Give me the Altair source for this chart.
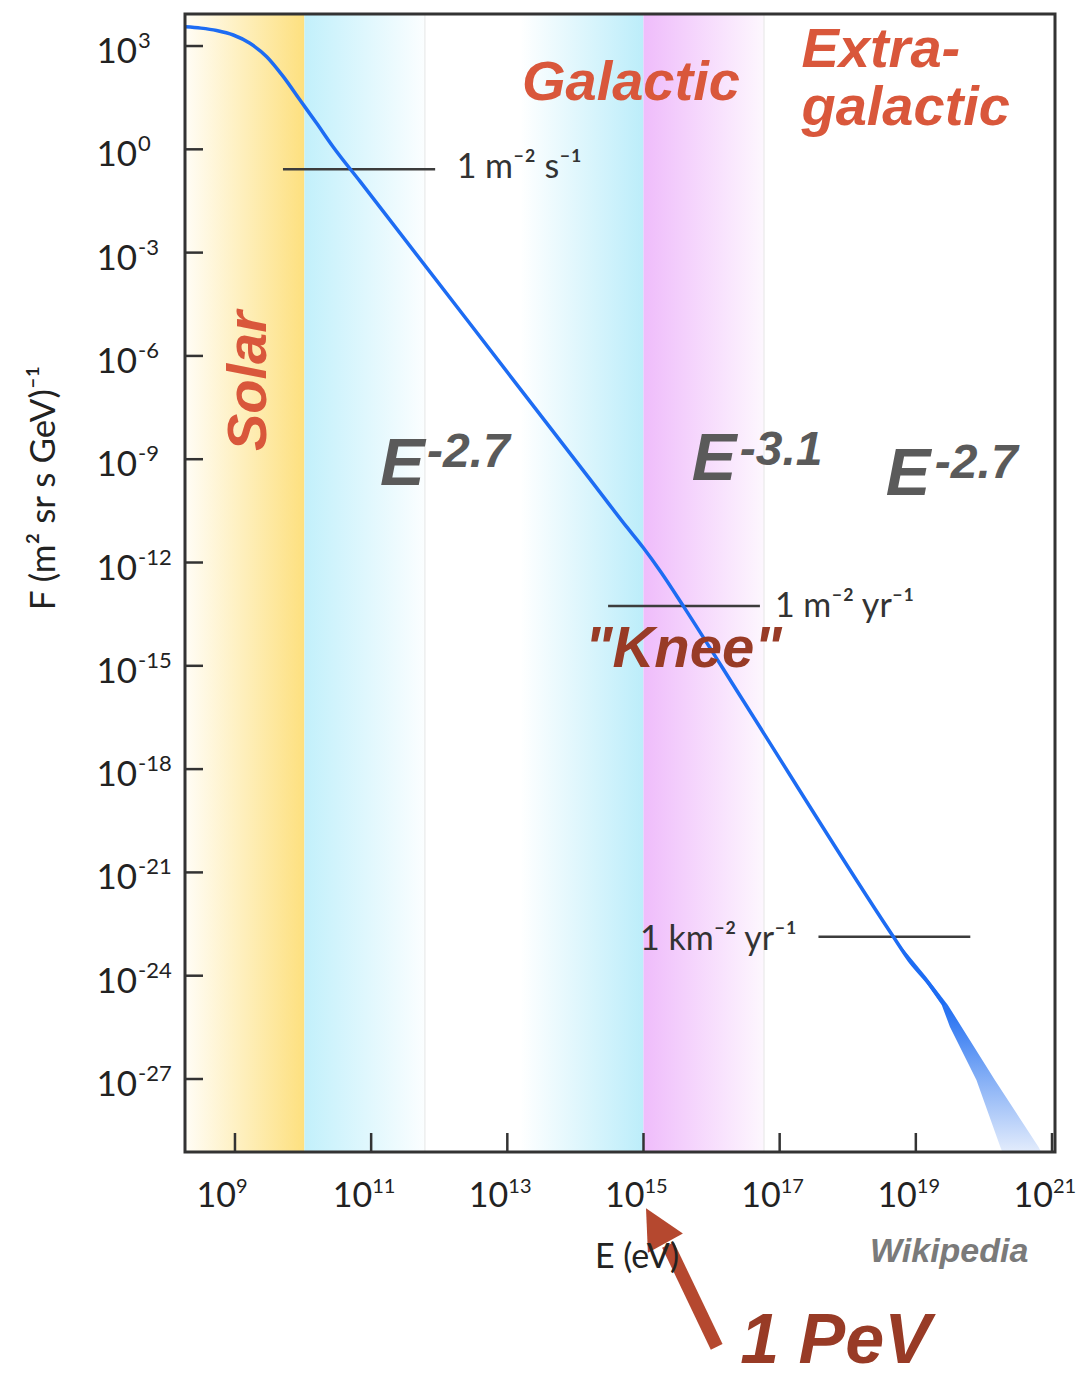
import altair as alt
import pandas as pd

# ---------------- data (log10 units) ----------------
# cosmic-ray flux curve: log10(E / eV) and log10(F)
curve_logE = [8.27, 8.5, 8.73, 8.975, 9.22, 9.466, 9.71, 9.955, 10.20, 10.44, 10.84,
              13.28, 14.21, 14.75, 15.0, 15.25, 15.59, 16.47, 18.67, 18.9, 19.2, 19.42]
curve_logF = [3.56, 3.52, 3.45, 3.32, 3.08, 2.69, 2.11, 1.43, 0.755, 0.075, -0.94,
              -7.19, -9.57, -10.96, -11.58, -12.26, -13.28, -16.03, -22.87, -23.55, -24.25, -24.85]

# uncertainty tail at the highest energies
tail_logF = [-22.9, -24.0, -24.85, -25.48, -27.03, -28.97, -29.12]
tail_logE_lo = [18.66, 19.08, 19.38, 19.50, 19.89, 20.24, 20.27]
tail_logE_hi = [18.68, 19.14, 19.47, 19.67, 20.16, 20.80, 20.84]

# shaded energy regions (log10 E bounds)
solar_band = [8.266, 10.02]
cyan_band_1 = [10.02, 11.79]
cyan_band_2 = [13.19, 15.0]
magenta_band = [15.0, 16.77]
faint_edges = [11.79, 16.77]

# reference flux levels
ref_lo = [9.705, 14.48, 17.57]
ref_hi = [11.94, 16.71, 19.80]
ref_F = [-0.576, -13.26, -22.87]
ref_text = ["1 m\u207b\u00b2 s\u207b\u00b9", "1 m\u207b\u00b2 yr\u207b\u00b9", "1 km\u207b\u00b2 yr\u207b\u00b9"]
ref_text_E = [12.256, 16.93, 14.95]
ref_text_F = [-0.842, -13.575, -23.26]

# axis ticks (exponents)
x_exps = [9, 11, 13, 15, 17, 19, 21]
y_exps = [3, 0, -3, -6, -9, -12, -15, -18, -21, -24, -27]

X_DOM = [8.266, 21.044]
Y_DOM = [-29.12, 3.93]
W, H = 870, 1138

xs = alt.Scale(domain=X_DOM, nice=False, zero=False)
ys = alt.Scale(domain=Y_DOM, nice=False, zero=False)

def X(f):
    return alt.X(f, type="quantitative", scale=xs, axis=None)

def Y(f):
    return alt.Y(f, type="quantitative", scale=ys, axis=None)

def band(bounds, stops):
    df = pd.DataFrame({"a": [bounds[0]], "b": [bounds[1]], "lo": [Y_DOM[0]], "hi": [Y_DOM[1]]})
    grad = alt.LinearGradient(
        gradient="linear",
        stops=[alt.GradientStop(color=c, offset=o) for o, c in stops],
        x1=0, x2=1, y1=0, y2=0,
    )
    return alt.Chart(df).mark_rect(color=grad).encode(
        x=X("a"), x2="b", y=Y("lo"), y2="hi"
    )

layers = []
layers.append(band(solar_band, [(0, "#fffdf6"), (1, "#fde07f")]))
layers.append(band(cyan_band_1, [(0, "#c2f0fb"), (1, "#fbfeff")]))
layers.append(band(cyan_band_2, [(0, "#ffffff"), (1, "#bcedfa")]))
layers.append(band(magenta_band, [(0, "#efbcfb"), (1, "#fdf7fe")]))

edges_df = pd.DataFrame({"e": faint_edges})
layers.append(alt.Chart(edges_df).mark_rule(color="#e6e6e6", strokeWidth=1).encode(x=X("e")))

# reference lines
ref_df = pd.DataFrame({"lo": ref_lo, "hi": ref_hi, "f": ref_F})
layers.append(alt.Chart(ref_df).mark_rule(color="#3c3c3c", strokeWidth=2.5).encode(
    x=X("lo"), x2="hi", y=Y("f")))

# tail band
tail_df = pd.DataFrame({"f": tail_logF, "lo": tail_logE_lo, "hi": tail_logE_hi})
tail_grad = alt.LinearGradient(
    gradient="linear",
    stops=[alt.GradientStop(color="#1f6ff2", offset=0),
           alt.GradientStop(color="#2a74f2", offset=0.35),
           alt.GradientStop(color="#7aa8f5", offset=0.62),
           alt.GradientStop(color="#e3ecfc", offset=1)],
    x1=0, x2=0, y1=0, y2=1,
)
layers.append(alt.Chart(tail_df).mark_area(orient="horizontal", color=tail_grad).encode(
    y=Y("f"), x=X("lo"), x2="hi"))

# curve
curve_df = pd.DataFrame({"e": curve_logE, "f": curve_logF})
layers.append(alt.Chart(curve_df).mark_line(color="#1d6cf3", strokeWidth=3.5,
                                            interpolate="monotone").encode(
    x=X("e"), y=Y("f")))

# frame
frame_df = pd.DataFrame({"k": [0]})
layers.append(alt.Chart(frame_df).mark_rect(filled=False, stroke="#333333", strokeWidth=3).encode(
    x=alt.value(0), x2=alt.value(W), y=alt.value(0), y2=alt.value(H)))

# reference labels
rl_df = pd.DataFrame({"e": ref_text_E, "f": ref_text_F, "t": ref_text})
layers.append(alt.Chart(rl_df).mark_text(align="left", baseline="alphabetic", font="Lato",
                                         fontSize=34, color="#333333").encode(
    x=X("e"), y=Y("f"), text="t:N"))

# annotations
ANN = dict(font="Liberation Sans", fontStyle="italic", fontWeight="bold")
red = "#d9573b"
dark_red = "#983b26"
gray = "#5a5a5a"

def ann(text, e, f, **kw):
    df = pd.DataFrame({"e": [e], "f": [f], "t": [text]})
    props = dict(ANN)
    props.update(kw)
    return alt.Chart(df).mark_text(**props).encode(x=X("e"), y=Y("f"), text="t:N")

layers.append(ann("Solar", 9.455, -6.73, angle=270, align="center", baseline="alphabetic",
                  fontSize=56, color=red))
layers.append(ann("Galactic", 13.215, 1.43, align="left", baseline="alphabetic", fontSize=56, color=red))
layers.append(ann("Extra-", 17.32, 2.40, align="left", baseline="alphabetic", fontSize=56, color=red))
layers.append(ann("galactic", 17.32, 0.71, align="left", baseline="alphabetic", fontSize=56, color=red))

for (e, f, sup, dx, dy) in [(11.13, -9.75, "-2.7", 47, -18),
                            (15.71, -9.60, "-3.1", 48, -15),
                            (18.56, -10.04, "-2.7", 49, -17)]:
    layers.append(ann("E", e, f, align="left", baseline="alphabetic", fontSize=67, color=gray))
    layers.append(ann(sup, e, f, align="left", baseline="alphabetic", fontSize=48, color=gray,
                      dx=dx, dy=dy))

layers.append(ann("\"Knee\"", 14.14, -15.03, align="left", baseline="alphabetic", fontSize=58,
                  color=dark_red))
layers.append(ann("1 PeV", 16.42, -35.25, align="left", baseline="alphabetic", fontSize=70,
                  color=dark_red))

# arrow to 1 PeV
shaft_df = pd.DataFrame({"e": [16.075], "f": [-34.78], "e2": [15.36], "f2": [-31.82]})
layers.append(alt.Chart(shaft_df).mark_rule(color="#b5482f", strokeWidth=13, strokeCap="butt").encode(
    x=X("e"), y=Y("f"), x2="e2", y2="f2"))
head_df = pd.DataFrame({"e": [15.037], "f": [-30.75]})
layers.append(alt.Chart(head_df).mark_point(shape="M0,0L1,2L-1,2Z", size=1600, angle=331,
                                            filled=True, opacity=1, color="#b5482f",
                                            strokeWidth=0).encode(
    x=X("e"), y=Y("f")))

# inward ticks
xt_df = pd.DataFrame({"e": x_exps, "b": ["10"] * len(x_exps), "s": [str(v) for v in x_exps]})
yt_df = pd.DataFrame({"f": y_exps, "b": ["10"] * len(y_exps), "s": [str(v) for v in y_exps]})
layers.append(alt.Chart(xt_df).mark_rule(color="#333333", strokeWidth=2.5).encode(
    x=X("e"), y=alt.value(H), y2=alt.value(H - 19)))
layers.append(alt.Chart(yt_df).mark_rule(color="#333333", strokeWidth=2.5).encode(
    y=Y("f"), x=alt.value(0), x2=alt.value(18)))

LBL = dict(font="Lato", color="#222222")
layers.append(alt.Chart(xt_df).mark_text(align="right", baseline="alphabetic", fontSize=34, dx=1,
                                         **LBL).encode(x=X("e"), y=alt.value(1193), text="b:N"))
layers.append(alt.Chart(xt_df).mark_text(align="left", baseline="alphabetic", fontSize=20, dx=1,
                                         **LBL).encode(x=X("e"), y=alt.value(1179), text="s:N"))
layers.append(alt.Chart(yt_df).mark_text(align="right", baseline="alphabetic", fontSize=35, dy=17,
                                         **LBL).encode(y=Y("f"), x=alt.value(-48), text="b:N"))
layers.append(alt.Chart(yt_df).mark_text(align="left", baseline="alphabetic", fontSize=22, dy=2,
                                         **LBL).encode(y=Y("f"), x=alt.value(-47), text="s:N"))

# axis titles and credit
ytitle = pd.DataFrame({"t": ["F (m\u00b2 sr s GeV)\u207b\u00b9"]})
layers.append(alt.Chart(ytitle).mark_text(angle=270, align="center", baseline="alphabetic",
                                          fontSize=35, **LBL).encode(
    x=alt.value(-130), y=alt.value(474), text="t:N"))
xtitle = pd.DataFrame({"t": ["E (eV)"]})
layers.append(alt.Chart(xtitle).mark_text(align="center", baseline="alphabetic",
                                          fontSize=34, **LBL).encode(
    x=alt.value(452), y=alt.value(1254), text="t:N"))
wiki = pd.DataFrame({"t": ["Wikipedia"]})
layers.append(alt.Chart(wiki).mark_text(align="left", baseline="alphabetic", fontSize=34,
                                        color="#7a7a7a", font="Liberation Sans",
                                        fontStyle="italic", fontWeight="bold").encode(
    x=alt.value(685), y=alt.value(1248), text="t:N"))

chart = alt.layer(*layers).properties(
    width=W, height=H,
    padding={"left": 185, "top": 14, "right": 23, "bottom": 226},
    autosize=alt.AutoSizeParams(type="none"),
).configure_view(stroke=None).configure(background="white")

chart.save("out.html", embed_options={"renderer": "svg", "actions": False})
